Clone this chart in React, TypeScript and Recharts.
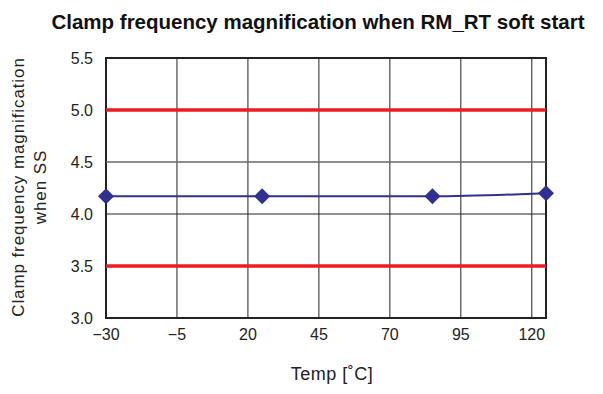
import { LineChart, Line, XAxis, YAxis, CartesianGrid, ReferenceLine, ReferenceArea } from 'recharts';

const temps = [-30, 25, 85, 125];
const magnification = [4.17, 4.17, 4.17, 4.2];
const xTicks = [-30, -5, 20, 45, 70, 95, 120];
const yTicks = [3.0, 3.5, 4.0, 4.5, 5.0, 5.5];
const limits = [5.0, 3.5];

const data = temps.map((t, i) => ({ temp: t, mag: magnification[i] }));

const font = '"Liberation Sans", Arial, sans-serif';

const Diamond = (props: any) => {
  const { cx, cy, index } = props;
  const r = 8;
  return (
    <polygon
      key={`d-${index}`}
      points={`${cx},${cy - r} ${cx + r},${cy} ${cx},${cy + r} ${cx - r},${cy}`}
      fill="#2e3192"
    />
  );
};

export default function App() {
  return (
    <div style={{ position: 'absolute', left: 0, top: 0, width: 603, height: 394, background: '#fff', fontFamily: font }}>
      <div style={{ position: 'absolute', top: 10, left: 0, width: 636, textAlign: 'center', fontWeight: 'bold', fontSize: 20.5, color: '#111' }}>
        Clamp frequency magnification when RM_RT soft start
      </div>
      <div
        style={{
          position: 'absolute',
          left: 30,
          top: 187,
          transform: 'translate(-50%, -50%) rotate(-90deg)',
          whiteSpace: 'nowrap',
          textAlign: 'center',
          fontSize: 17,
          letterSpacing: 0.9,
          lineHeight: '22px',
          color: '#222',
        }}
      >
        Clamp frequency magnification
        <br />
        when SS
      </div>
      <div style={{ position: 'absolute', top: 364, left: 232, width: 200, textAlign: 'center', fontSize: 18, letterSpacing: 0.5, color: '#222' }}>
        Temp [˚C]
      </div>
      <LineChart width={603} height={394} data={data} margin={{ top: 58, right: 57, left: 66, bottom: 46 }}>
        <CartesianGrid stroke="#222" strokeWidth={1} />
        <ReferenceLine y={4.5} stroke="#8a8a8a" strokeWidth={1.2} />
        <XAxis
          dataKey="temp"
          type="number"
          domain={[-30, 125]}
          ticks={xTicks}
          tickLine={false}
          axisLine={false}
          height={30}
          tick={{ fill: '#222', fontSize: 16, fontFamily: font, dy: 3 }}
          tickFormatter={(v: number) => (v < 0 ? `\u2212${Math.abs(v)}` : `${v}`)}
          interval={0}
        />
        <YAxis
          type="number"
          domain={[3, 5.5]}
          ticks={yTicks}
          tickLine={false}
          axisLine={false}
          width={40}
          tick={{ fill: '#222', fontSize: 16, fontFamily: font, dx: -5 }}
          tickFormatter={(v: number) => v.toFixed(1)}
          interval={0}
        />
        {limits.map((l) => (
          <ReferenceLine key={l} y={l} stroke="#ec1c24" strokeWidth={3.5} />
        ))}
        <ReferenceArea x1={-30} x2={125} y1={3} y2={5.5} fill="none" stroke="#222" strokeWidth={2} />
        <Line
          type="monotone"
          dataKey="mag"
          stroke="#2e3192"
          strokeWidth={2}
          dot={Diamond}
          activeDot={false}
          isAnimationActive={false}
        />
      </LineChart>
    </div>
  );
}
